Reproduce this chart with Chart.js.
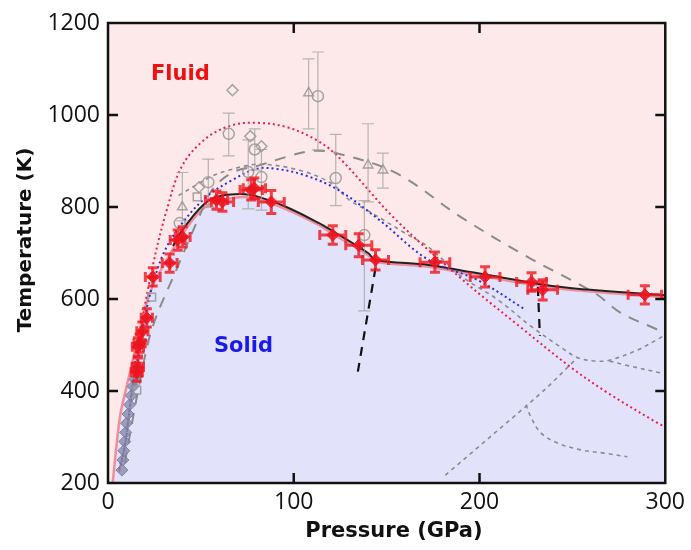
<!DOCTYPE html>
<html>
<head>
<meta charset="utf-8">
<script src="https://cdn.jsdelivr.net/npm/chart.js@4/dist/chart.umd.min.js"></script>
<style>
  html, body { margin: 0; padding: 0; background: #fff; }
  #wrap { width: 691px; height: 550px; }
</style>
</head>
<body>
<div id="wrap"><canvas id="c" width="691" height="550"></canvas></div>
<script>
// ---- data (pressure in GPa, temperature in K) ----
var xTicks = [0, 100, 200, 300];
var yTicks = [200, 400, 600, 800, 1000, 1200];

// measured melting points (red) with error bars
var redP    = [15.5, 16.1, 16.1, 17, 18.5, 20.9, 24.1, 33.2, 37.5, 40.2, 58.4, 61.6, 77.1, 78.8, 87.9, 121, 135, 144, 176, 203, 228, 234, 289];
var redT    = [441, 452, 496, 504, 530, 559, 648, 678, 728, 735, 815, 811, 837, 841, 811, 739, 717, 685, 680, 648, 637, 620, 609];
var redPErr = [3, 3, 3, 3, 3, 3, 4, 4, 4, 4, 6, 6, 6, 6, 7, 7, 7, 7, 8, 8, 8, 8, 9];
var redTErr = [20, 20, 20, 20, 20, 20, 20, 20, 22, 22, 20, 20, 22, 22, 25, 20, 25, 22, 22, 22, 20, 22, 20];

// other experiments (grey open symbols)
var greyP     = [67, 65, 108, 113, 76.6, 79, 82.6, 82.6, 75.5, 54, 49, 48, 40, 38.6, 122.6, 140, 148, 138, 15.5, 23.5];
var greyT     = [1054, 959, 1048, 1041, 954, 925, 932, 865, 876, 854, 843, 822, 800, 765, 863, 891, 880, 739, 402, 604];
var greyShape = ['rectRot', 'circle', 'triangle', 'circle', 'rectRot', 'circle', 'rectRot', 'circle', 'circle', 'circle', 'rectRot', 'rect', 'triangle', 'circle', 'circle', 'triangle', 'triangle', 'circle', 'rect', 'rect'];
var greyErrHi = [0, 45, 74, 96, 0, 45, 0, 60, 70, 50, 0, 0, 75, 0, 95, 90, 37, 75, 0, 0];
var greyErrLo = [0, 48, 78, 117, 0, 45, 0, 72, 80, 55, 0, 0, 30, 0, 60, 80, 39, 165, 0, 0];

// low pressure grey filled points
var lowP = [7.5, 8, 8.5, 9, 9.5, 10, 10.8, 11.6, 12.5, 13.5, 14.5];
var lowT = [228, 250, 270, 290, 310, 330, 350, 370, 390, 410, 425];

// melting curve (black) and solid region boundary (pink)
var meltP = [35, 40, 54.6, 70.7, 81, 96, 113.6, 120, 140, 144, 172.5, 197.7, 244, 300];
var meltT = [715, 750, 815, 828, 822, 800, 765, 750, 700, 685, 674, 657, 626, 608];
var solidP = [2.5, 6.4, 10, 15.5, 22.5, 31.6, 45.5, 55, 70, 81, 96, 114, 120, 140, 144, 172.5, 198, 244, 300];
var solidT = [200, 343, 409, 504, 613, 685, 772, 806, 821, 817, 795, 760, 744, 695, 681, 670, 652, 622, 604];

// calculations
var redDotP  = [6, 9, 13.4, 15.5, 24, 31.6, 40, 53, 67, 80, 96, 112, 124, 155, 192, 222, 249, 269, 296, 300];
var redDotT  = [225, 278, 424, 489, 670, 793, 890, 950, 978, 983, 974, 946, 909, 772, 638, 539, 452, 396, 330, 322];
var blueDotP = [6, 9, 13, 17, 22, 30, 40, 53, 67, 80, 90.5, 106, 124, 146, 172.5, 199, 225];
var blueDotT = [230, 280, 400, 490, 600, 700, 765, 822, 859, 883, 883, 869, 837, 772, 685, 641, 576];
var longDashP = [9, 17, 24, 37.5, 49, 56, 67, 81, 96, 110, 123, 155, 190, 226, 262, 276, 296, 300];
var longDashT = [243, 417, 539, 670, 778, 837, 875, 890, 909, 922, 917, 874, 778, 691, 613, 570, 533, 525];
var phaseAP = [38, 55, 65, 81, 103, 120, 130, 142, 160, 172.5, 190, 210, 228, 246, 253, 263, 270, 285, 297, 300];
var phaseAT = [825, 865, 880, 893, 880, 852, 815, 787, 743, 713, 650, 598, 540, 489, 472, 465, 467, 489, 515, 522];
var phaseBP = [270, 278, 300];
var phaseBT = [465, 457, 437];
var phaseCP = [181.6, 210, 224.5, 236.8, 251.3];
var phaseCT = [217, 315, 365, 409, 467];
var phaseDP = [225, 227.7, 233, 242, 254.5, 267, 279.6];
var phaseDT = [370, 343, 309, 287, 272, 265, 257];
var blackDash1P = [144, 134];
var blackDash1T = [667, 430];
var blackDash2P = [231.4, 232.5];
var blackDash2T = [626, 520];

function pts(xs, ys) {
    return xs.map(function(x, i) { return {x: x, y: ys[i]}; });
}

function line(xs, ys, color, width, dash, extra) {
    var ds = {
        type: 'line',
        data: pts(xs, ys),
        borderColor: color,
        borderWidth: width,
        borderDash: dash,
        pointRadius: 0,
        fill: false,
        tension: 0.35
    };
    for (var k in extra) ds[k] = extra[k];
    return ds;
}

// draw error bars under a dataset
var errorBars = {
    id: 'errorBars',
    beforeDatasetDraw: function(chart, args) {
        var ds = chart.data.datasets[args.index];
        if (!ds.errLo && !ds.errX) return;
        var xs = chart.scales.x, ys = chart.scales.y, ctx = chart.ctx;
        ctx.save();
        ctx.strokeStyle = ds.errColor;
        ctx.lineWidth = ds.errWidth;
        var cap = ds.capSize;
        ds.data.forEach(function(p, i) {
            var px = xs.getPixelForValue(p.x), py = ys.getPixelForValue(p.y);
            var lo = ds.errLo ? ds.errLo[i] : 0, hi = ds.errHi ? ds.errHi[i] : 0;
            if (hi || lo) {
                var y1 = ys.getPixelForValue(p.y + hi), y2 = ys.getPixelForValue(p.y - lo);
                ctx.beginPath();
                ctx.moveTo(px, y1); ctx.lineTo(px, y2);
                ctx.moveTo(px - cap, y1); ctx.lineTo(px + cap, y1);
                ctx.moveTo(px - cap, y2); ctx.lineTo(px + cap, y2);
                ctx.stroke();
            }
            if (ds.errX && ds.errX[i]) {
                var x1 = xs.getPixelForValue(p.x - ds.errX[i]), x2 = xs.getPixelForValue(p.x + ds.errX[i]);
                ctx.beginPath();
                ctx.moveTo(x1, py); ctx.lineTo(x2, py);
                ctx.moveTo(x1, py - cap); ctx.lineTo(x1, py + cap);
                ctx.moveTo(x2, py - cap); ctx.lineTo(x2, py + cap);
                ctx.stroke();
            }
        });
        ctx.restore();
    }
};

// pink background, frame, inner ticks, labels
var decor = {
    id: 'decor',
    beforeDraw: function(chart) {
        var a = chart.chartArea, ctx = chart.ctx;
        ctx.save();
        ctx.fillStyle = '#fde9e9';
        ctx.fillRect(a.left, a.top, a.right - a.left, a.bottom - a.top);
        ctx.restore();
    },
    afterDraw: function(chart) {
        var a = chart.chartArea, ctx = chart.ctx;
        var xs = chart.scales.x, ys = chart.scales.y;
        ctx.save();
        ctx.strokeStyle = '#111';
        ctx.lineWidth = 2.5;
        ctx.strokeRect(a.left, a.top, a.right - a.left, a.bottom - a.top);
        ctx.beginPath();
        yTicks.slice(1, -1).forEach(function(v) {
            var py = ys.getPixelForValue(v);
            ctx.moveTo(a.left, py); ctx.lineTo(a.left + 10, py);
            ctx.moveTo(a.right, py); ctx.lineTo(a.right - 10, py);
        });
        xTicks.slice(1, -1).forEach(function(v) {
            var px = xs.getPixelForValue(v);
            ctx.moveTo(px, a.bottom); ctx.lineTo(px, a.bottom - 10);
            ctx.moveTo(px, a.top); ctx.lineTo(px, a.top + 10);
        });
        ctx.stroke();

        ctx.font = 'bold 21px "DejaVu Sans"';
        ctx.fillStyle = '#ee1111';
        ctx.textAlign = 'left';
        ctx.textBaseline = 'alphabetic';
        ctx.fillText('Fluid', 151, 80);
        ctx.fillStyle = '#1a1ae6';
        ctx.fillText('Solid', 214, 352);

        ctx.fillStyle = '#111';
        ctx.textAlign = 'center';
        ctx.fillText('Pressure (GPa)', 394, 537);
        ctx.translate(31, 240);
        ctx.rotate(-Math.PI / 2);
        ctx.font = 'bold 20px "DejaVu Sans"';
        ctx.fillText('Temperature (K)', 0, 0);
        ctx.restore();
    }
};

var datasets = [
    {
        type: 'scatter',
        data: pts(redP, redT),
        pointStyle: 'rectRot',
        pointRadius: 6,
        backgroundColor: 'rgba(235,20,30,0.85)',
        borderColor: 'rgba(235,20,30,0.85)',
        borderWidth: 1,
        errX: redPErr, errLo: redTErr, errHi: redTErr,
        errColor: 'rgba(240,20,30,0.8)', errWidth: 3, capSize: 5
    },
    {
        type: 'scatter',
        data: pts(greyP, greyT),
        pointStyle: greyShape,
        pointRadius: 5.5,
        backgroundColor: 'rgba(0,0,0,0)',
        borderColor: 'rgba(150,150,150,0.85)',
        borderWidth: 1.5,
        errLo: greyErrLo, errHi: greyErrHi,
        errColor: 'rgba(160,160,160,0.75)', errWidth: 1.2, capSize: 6
    },
    {
        type: 'scatter',
        data: pts(lowP, lowT),
        pointStyle: 'rectRot',
        pointRadius: 6,
        backgroundColor: 'rgba(130,135,165,0.75)',
        borderColor: 'rgba(120,125,150,0.9)',
        borderWidth: 1
    },
    line(redDotP, redDotT, '#e8204a', 2, [2, 3]),
    line(blueDotP, blueDotT, '#2233dd', 2, [2, 3]),
    line(blackDash1P, blackDash1T, '#111', 2.2, [9, 7], {tension: 0}),
    line(blackDash2P, blackDash2T, '#111', 2.2, [9, 7], {tension: 0}),
    line(meltP, meltT, '#222', 2, []),
    line(longDashP, longDashT, '#8a8a8a', 2, [11, 9]),
    line(phaseAP, phaseAT, '#8a8a96', 1.6, [4, 4]),
    line(phaseBP, phaseBT, '#8a8a96', 1.6, [4, 4]),
    line(phaseCP, phaseCT, '#8a8a96', 1.6, [4, 4], {tension: 0}),
    line(phaseDP, phaseDT, '#8a8a96', 1.6, [4, 4]),
    line(solidP, solidT, 'rgba(240,120,130,0.8)', 2.5, [], {fill: 'start', backgroundColor: '#e2e2fb'})
];

new Chart(document.getElementById('c'), {
    data: { datasets: datasets },
    options: {
        responsive: false,
        animation: false,
        layout: { padding: { top: 23, right: 23, left: 0, bottom: 0 } },
        plugins: { legend: { display: false }, tooltip: { enabled: false } },
        scales: {
            x: {
                type: 'linear', min: 0, max: 300,
                afterFit: function(s) { s.height = 67; },
                afterBuildTicks: function(s) { s.ticks = xTicks.map(function(v) { return {value: v}; }); },
                grid: { display: false, drawTicks: false },
                border: { display: false },
                ticks: { padding: 6, color: '#111', font: { family: '"Open Sans"', size: 23 },
                         callback: function(v) { return String(v); } }
            },
            y: {
                type: 'linear', min: 200, max: 1200,
                afterFit: function(s) { s.width = 108; },
                afterBuildTicks: function(s) { s.ticks = yTicks.map(function(v) { return {value: v}; }); },
                grid: { display: false, drawTicks: false },
                border: { display: false },
                ticks: { padding: 8, color: '#111', font: { family: '"Open Sans"', size: 23 },
                         callback: function(v) { return String(v); } }
            }
        }
    },
    plugins: [errorBars, decor]
});
</script>
</body>
</html>
